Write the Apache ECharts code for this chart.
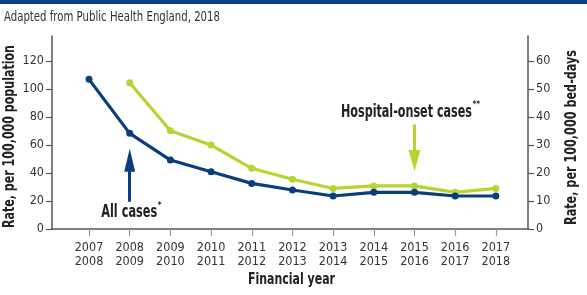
<!DOCTYPE html>
<html><head><meta charset="utf-8">
<script src="https://cdn.jsdelivr.net/npm/echarts@6/dist/echarts.min.js"></script>
<style>html,body{margin:0;padding:0;background:#fff}#c{width:587px;height:295px}</style>
</head><body><div id="c"></div>
<script>
const categories = ['2007\n2008','2008\n2009','2009\n2010','2010\n2011','2011\n2012','2012\n2013','2013\n2014','2014\n2015','2015\n2016','2016\n2017','2017\n2018'];
const allCases = [107, 68.4, 49.3, 40.9, 32.6, 27.9, 23.6, 26.2, 26.2, 23.6, 23.6];
const hospitalOnset = [null, 52.3, 35.1, 30, 21.7, 17.8, 14.5, 15.4, 15.4, 13.1, 14.5];
const leftTicks = [0, 20, 40, 60, 80, 100, 120];
const rightTicks = [0, 10, 20, 30, 40, 50, 60];
const xTicks = categories.map((c, i) => i);

const FONT = '"DejaVu Sans Condensed", "Noto Sans", sans-serif';
const BLUE = '#0a3d7b';
const GREEN = '#b8d432';
const AXIS = '#555';
const INK = '#222';

const chart = echarts.init(document.getElementById('c'), null, {renderer: 'canvas'});

const measCtx = document.createElement('canvas').getContext('2d');
function widthOf(text, font) { measCtx.font = font; return measCtx.measureText(text).width; }
// condensed text: scale horizontally to the reference's width
function condText(id, text, font, targetW, x, y, opts) {
  opts = opts || {};
  const w = widthOf(text, font);
  return {
    type: 'text', id: id, x: x, y: y, scaleX: targetW / w, rotation: opts.rotation || 0,
    style: {text: text, font: font, fill: opts.fill || INK,
      align: opts.align || 'center', verticalAlign: 'middle',
      textAlign: opts.align || 'center', textVerticalAlign: 'middle'}
  };
}

chart.setOption({
  animation: false,
  backgroundColor: '#fff',
  textStyle: {fontFamily: FONT},
  grid: {left: 52, right: 59, top: 36, bottom: 66, containLabel: false, outerBoundsMode: 'none'},
  xAxis: {
    type: 'value', min: -0.91, max: 10.79,
    axisLine: {show: true, onZero: false, lineStyle: {color: AXIS, width: 1.5}},
    axisTick: {show: true, length: 7, lineStyle: {color: '#999', width: 1.2}, customValues: xTicks},
    axisLabel: {customValues: xTicks, formatter: v => categories[Math.round(v)] || '', margin: 11,
      fontFamily: FONT, fontSize: 12.5, lineHeight: 14.5, color: '#333'},
    splitLine: {show: false}
  },
  yAxis: [{
    type: 'value', min: 0, max: 138, position: 'left',
    axisLine: {show: true, onZero: false, lineStyle: {color: AXIS, width: 1.5}},
    axisTick: {show: true, length: 6, customValues: leftTicks, lineStyle: {color: AXIS, width: 1.2}},
    axisLabel: {customValues: leftTicks, margin: 8, fontFamily: FONT, fontSize: 12.5, color: '#333'},
    splitLine: {show: false}
  }, {
    type: 'value', min: 0, max: 69, position: 'right',
    axisLine: {show: true, onZero: false, lineStyle: {color: AXIS, width: 1.5}},
    axisTick: {show: true, length: 6, customValues: rightTicks, lineStyle: {color: AXIS, width: 1.2}},
    axisLabel: {customValues: rightTicks, margin: 8, fontFamily: FONT, fontSize: 12.5, color: '#333'},
    splitLine: {show: false}
  }],
  series: [{
    name: 'All cases', type: 'line', yAxisIndex: 0,
    data: allCases.map((v, i) => [i, v]),
    symbol: 'circle', symbolSize: 7,
    lineStyle: {color: BLUE, width: 3.2}, itemStyle: {color: BLUE},
    z: 3,
    markLine: {
      silent: true, symbol: ['none', 'triangle'], symbolSize: [11, 23],
      lineStyle: {color: BLUE, width: 3, type: 'solid'}, label: {show: false},
      data: [[{coord: [1, 19.5]}, {coord: [1, 49.1]}]]
    }
  }, {
    name: 'Hospital-onset cases', type: 'line', yAxisIndex: 1,
    data: hospitalOnset.map((v, i) => [i, v]),
    symbol: 'circle', symbolSize: 7,
    lineStyle: {color: GREEN, width: 3.2}, itemStyle: {color: GREEN},
    z: 2,
    markLine: {
      silent: true, symbol: ['none', 'triangle'], symbolSize: [12, 21],
      lineStyle: {color: GREEN, width: 3, type: 'solid'}, label: {show: false},
      data: [[{coord: [8, 37.4]}, {coord: [8, 24.5]}]]
    }
  }]
});

// annotation anchors in data space
const pAll = chart.convertToPixel({seriesIndex: 0}, [1.0, 11.4]);
const pHosp = chart.convertToPixel({seriesIndex: 1}, [7.95, 41.8]);

const boldF = 'bold 17px ' + FONT;
const nameF = 'bold 15px ' + FONT;
const supF = 'bold 8px ' + FONT;
const g = [
  {type: 'rect', id: 'bar', left: 0, top: 0, shape: {width: 587, height: 4}, style: {fill: '#0c4181'}},
  condText('title', 'Adapted from Public Health England, 2018', '14px ' + FONT, 216, 4, 17, {align: 'left', fill: '#333'}),
  condText('yname', 'Rate, per 100,000 population', nameF, 183, 10, 136.5, {rotation: Math.PI / 2}),
  condText('y2name', 'Rate, per 100,000 bed-days', nameF, 175, 572.5, 137.5, {rotation: Math.PI / 2}),
  condText('xname', 'Financial year', nameF, 87, 291.5, 280),
  condText('allTxt', 'All cases', boldF, 56, pAll[0] - 0.5, pAll[1]),
  {type: 'text', id: 'allSup', x: pAll[0] + 28, y: pAll[1] - 7, style: {text: '*', font: supF, fill: INK, align: 'left', verticalAlign: 'middle', textAlign: 'left', textVerticalAlign: 'middle'}},
  condText('hospTxt', 'Hospital-onset cases', boldF, 131, pHosp[0] - 6, pHosp[1]),
  {type: 'text', id: 'hospSup', x: pHosp[0] + 60, y: pHosp[1] - 7, style: {text: '**', font: supF, fill: INK, align: 'left', verticalAlign: 'middle', textAlign: 'left', textVerticalAlign: 'middle'}}
];
chart.setOption({graphic: g});
</script></body></html>
